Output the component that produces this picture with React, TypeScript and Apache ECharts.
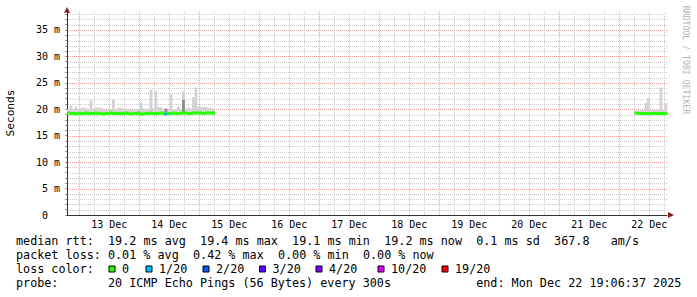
import React, { useEffect, useRef } from 'react';
import * as echarts from 'echarts';

// ---------- time frame ----------
const HOUR = 3600 * 1000;
const END_TIME = Date.UTC(2025, 11, 22, 19, 6, 37);
const SPAN_HOURS = 240;
const START_TIME = END_TIME - SPAN_HOURS * HOUR;
const T = (h: number) => START_TIME + h * HOUR;

// ---------- axis ticks ----------
const xTickLabels = ['13 Dec', '14 Dec', '15 Dec', '16 Dec', '17 Dec', '18 Dec', '19 Dec', '20 Dec', '21 Dec', '22 Dec'];
const xTickTimes = xTickLabels.map((_, k) => Date.UTC(2025, 11, 13 + k, 12));
const xGridTimes: number[] = [];
for (let k = 0; k < 40; k++) xGridTimes.push(Date.UTC(2025, 11, 13, 0) + k * 6 * HOUR);
const yTickValues = [0, 5, 10, 15, 20, 25, 30, 35];
const yTickLabels = ['0\u00a0\u00a0', '5 m', '10 m', '15 m', '20 m', '25 m', '30 m', '35 m'];
const yGridValues: number[] = [];
for (let v = 1; v <= 38; v++) yGridValues.push(v);
const Y_MAX = 38.4;

// ---------- data (ms), one value per hour ----------
const seg1StartHour = 0;
const seg1Median = [
  19.3, 19.2, 19.2, 19.1, 19.2, 19.2, 19.2, 19.3, 19.2, 19.2,
  19.2, 19.3, 19.2, 19.2, 19.1, 19.2, 19.2, 19.3, 19.2, 19.2,
  19.2, 19.2, 19.2, 19.3, 19.2, 19.1, 19.2, 19.2, 19.3, 19.1,
  19.1, 19.2, 19.2, 19.3, 19.2, 19.2, 19.2, 19.3, 19.2, 19.1,
  19.2, 19.2, 19.3, 19.2, 19.2, 19.2, 19.3, 19.3, 19.2, 19.2,
  19.3, 19.3, 19.3, 19.3, 19.2, 19.3, 19.3, 19.3, 19.3,
];
const seg1SmokeTop = [
  20.0, 20.7, 20.0, 20.5, 20.0, 20.2, 20.3, 20.2, 20.0, 21.7,
  20.0, 20.3, 20.3, 20.3, 20.0, 19.9, 20.0, 20.0, 21.9, 20.0,
  20.3, 20.3, 20.0, 20.1, 20.0, 19.9, 20.0, 20.0, 20.0, 21.3,
  20.2, 20.0, 20.1, 23.7, 20.2, 23.4, 20.4, 20.4, 20.0, 20.2,
  20.0, 22.8, 20.0, 20.0, 20.5, 20.1, 23.4, 20.2, 20.3, 20.2,
  22.3, 24.1, 20.5, 20.5, 20.4, 20.4, 20.3, 20.2, 20.1,
];
const seg2StartHour = 227;
const seg2Median = [19.3, 19.2, 19.2, 19.2, 19.2, 19.2, 19.2, 19.2, 19.2, 19.2, 19.2, 19.2, 19.2];
const seg2SmokeTop = [19.7, 19.8, 19.8, 19.9, 21.2, 22.2, 19.9, 20.0, 19.9, 19.9, 24.1, 19.9, 21.2];
const SMOKE_FLOOR = 19.0;
const darkSmokeHours = [39, 46];
const darkSmokeLow = [19.4, 19.3];
const darkSmokeHigh = [20.1, 21.8];
const lossHours = [39];
const lossLevels = [1];

// ---------- legend ----------
const lossLabels = ['0', '1/20', '2/20', '3/20', '4/20', '10/20', '19/20'];
const lossColors = ['#26ff00', '#00b8ff', '#0059ff', '#5e00ff', '#7e00ff', '#dd00ff', '#ff0000'];
const rttStats = ['19.2 ms avg', '19.4 ms max', '19.1 ms min', '19.2 ms now', '0.1 ms sd', '367.8   am/s'];
const lossStats = ['0.01 % avg', '0.42 % max', '0.00 % min', '0.00 % now'];
const probeText = '20 ICMP Echo Pings (56 Bytes) every 300s';
const endText = 'end: Mon Dec 22 19:06:37 2025';

// ---------- styles ----------
const FONT = '"DejaVu Sans Mono", monospace';
const CHAR_W = 7.08;
const LEG_FONT = 11.76;
const SMOKE_COLOR = '#d3d3d3';
const DARK_SMOKE_COLOR = '#8f8f8f';
const MAJOR_GRID = '#ef9e9e';
const MINOR_GRID = '#cbcbcb';

function buildSmoke(startHour: number, tops: number[]) {
  return tops.map((top, k) => [T(startHour + k), T(startHour + k + 1), SMOKE_FLOOR, top]);
}
function buildMedian(startHour: number, med: number[]) {
  return med.map((m, k) => {
    const h = startHour + k;
    const li = lossHours.indexOf(h);
    return [T(h), T(h + 1), m, li >= 0 ? lossLevels[li] : 0];
  });
}
function textPieces(line: string) {
  const out: { col: number; text: string }[] = [];
  const re = /\S+(?: \S+)*/g;
  let m: RegExpExecArray | null;
  while ((m = re.exec(line))) out.push({ col: m.index, text: m[0] });
  return out;
}

export default function App() {
  const ref = useRef<HTMLDivElement>(null);
  useEffect(() => {
    if (!ref.current) return;
    const chart = echarts.init(ref.current, null, { renderer: 'svg' });

    const smokeData = [...buildSmoke(seg1StartHour, seg1SmokeTop), ...buildSmoke(seg2StartHour, seg2SmokeTop)];
    const darkData = darkSmokeHours.map((h, k) => [T(h), T(h + 1), darkSmokeLow[k], darkSmokeHigh[k]]);
    const medianData = [...buildMedian(seg1StartHour, seg1Median), ...buildMedian(seg2StartHour, seg2Median)];
    // vertical grid: [time, isMajor]; horizontal grid: [x, value, isMajor]
    const vGridData = xGridTimes.map((t, k) => [t, k % 4 === 0 ? 1 : 0]);
    const hGridData = yGridValues.map((v) => [START_TIME, v, v % 5 === 0 ? 1 : 0]);

    const rectRender = (color: string) => (params: any, api: any) => {
      const p0 = api.coord([api.value(0), api.value(3)]);
      const p1 = api.coord([api.value(1), api.value(2)]);
      return {
        type: 'rect',
        shape: { x: p0[0], y: p0[1], width: p1[0] - p0[0] + 0.4, height: p1[1] - p0[1] },
        style: { fill: color },
      };
    };

    const lines = [
      'median rtt:'.padEnd(13) + rttStats.join('  '),
      'packet loss:'.padEnd(13) + lossStats.join('  '),
    ];
    const lineY = [241, 255, 269, 283];
    const graphic: any[] = [];
    const addText = (x: number, y: number, text: string) =>
      graphic.push({
        type: 'text', x, y,
        style: { text, fontFamily: FONT, fontSize: LEG_FONT, fill: '#000', verticalAlign: 'middle' },
      });
    lines.forEach((ln, r) => textPieces(ln).forEach((p) => addText(16 + p.col * CHAR_W, lineY[r], p.text)));
    const probeLine = 'probe:'.padEnd(13) + probeText.padEnd(52) + endText;
    textPieces(probeLine).forEach((p) => addText(16 + p.col * CHAR_W, lineY[3], p.text));
    addText(16, lineY[2], 'loss color:');
    const boxX = [109, 146, 203, 259.5, 316, 378, 442];
    lossLabels.forEach((lab, k) => {
      graphic.push({
        type: 'rect', shape: { x: boxX[k], y: 266, width: 6, height: 6 },
        style: { fill: lossColors[k], stroke: '#000', lineWidth: 1 },
      });
      addText(boxX[k] + 13, lineY[2], lab);
    });
    graphic.push({
      type: 'text', x: 10, y: 113, rotation: Math.PI / 2,
      style: { text: 'Seconds', fontFamily: FONT, fontSize: 11.2, fill: '#000', align: 'center', verticalAlign: 'middle' },
    });
    graphic.push({
      type: 'text', x: 686, y: 60, rotation: -Math.PI / 2,
      style: { text: 'RRDTOOL / TOBI OETIKER', fontFamily: FONT, fontSize: 8.2, fill: '#b4b4b4', align: 'center', verticalAlign: 'middle' },
    });
    graphic.push({ type: 'polygon', shape: { points: [[64, 13], [70, 13], [67, 7]] }, style: { fill: '#8b1a1a' } });
    graphic.push({ type: 'polygon', shape: { points: [[668, 212], [668, 218], [674, 215]] }, style: { fill: '#8b1a1a' } });

    chart.setOption({
      animation: false,
      backgroundColor: '#ffffff',
      grid: { left: 67, top: 12, width: 600, height: 203, containLabel: false },
      xAxis: {
        type: 'value',
        min: START_TIME,
        max: END_TIME,
        axisLine: { show: true, onZero: false, lineStyle: { color: '#333', width: 1 } },
        axisTick: { show: false },
        axisLabel: {
          customValues: xTickTimes,
          formatter: (v: number) => {
            const i = xTickTimes.indexOf(v);
            return i >= 0 ? xTickLabels[i] : '';
          },
          fontFamily: FONT, fontSize: 10, color: '#000', margin: 4,
        },
        splitLine: { show: false },
      },
      yAxis: {
        type: 'value',
        min: 0,
        max: Y_MAX,
        interval: 1,
        axisLine: { show: true, lineStyle: { color: '#333', width: 1 } },
        axisTick: { show: true, length: 2, lineStyle: { color: '#999' } },
        axisLabel: {
          formatter: (v: number) => {
            const i = yTickValues.indexOf(Math.round(v * 1000) / 1000);
            return i >= 0 ? yTickLabels[i] : '';
          },
          fontFamily: FONT, fontSize: 10, color: '#000', margin: 7,
        },
        splitLine: { show: false },
      },
      series: [
        {
          type: 'custom', name: 'vgrid', z: 1, silent: true, data: vGridData, encode: { x: 0, y: 1 },
          renderItem: (params: any, api: any) => {
            const cs = params.coordSys;
            const p = api.coord([api.value(0), 0]);
            const x = Math.round(p[0]);
            const color = api.value(1) === 1 ? MAJOR_GRID : MINOR_GRID;
            const children: any[] = [];
            for (let y = Math.round(cs.y); y < cs.y + cs.height; y += 2) {
              children.push({ type: 'rect', shape: { x, y, width: 1, height: 1 }, style: { fill: color } });
            }
            return { type: 'group', children };
          },
        },
        {
          type: 'custom', name: 'hgrid', z: 1, silent: true, data: hGridData, encode: { x: 0, y: 1 },
          renderItem: (params: any, api: any) => {
            const cs = params.coordSys;
            const p = api.coord([api.value(0), api.value(1)]);
            const y = Math.round(p[1]);
            const color = api.value(2) === 1 ? MAJOR_GRID : MINOR_GRID;
            const children: any[] = [];
            for (let x = Math.round(cs.x) + 1; x < cs.x + cs.width; x += 2) {
              children.push({ type: 'rect', shape: { x, y, width: 1, height: 1 }, style: { fill: color } });
            }
            return { type: 'group', children };
          },
        },
        { type: 'custom', name: 'smoke', z: 2, data: smokeData, encode: { x: [0, 1], y: [2, 3] }, renderItem: rectRender(SMOKE_COLOR), silent: true },
        { type: 'custom', name: 'smokeDark', z: 3, data: darkData, encode: { x: [0, 1], y: [2, 3] }, renderItem: rectRender(DARK_SMOKE_COLOR), silent: true },
        {
          type: 'custom', name: 'median', z: 4, data: medianData, encode: { x: [0, 1], y: 2 }, silent: true,
          renderItem: (params: any, api: any) => {
            const p0 = api.coord([api.value(0), api.value(2)]);
            const p1 = api.coord([api.value(1), api.value(2)]);
            return {
              type: 'rect',
              shape: { x: p0[0], y: p0[1] - 1.5, width: p1[0] - p0[0] + 0.4, height: 3 },
              style: { fill: lossColors[api.value(3)] },
            };
          },
        },
      ],
      graphic,
    });
    return () => chart.dispose();
  }, []);
  return <div ref={ref} style={{ position: 'fixed', left: 0, top: 0, width: 697, height: 297 }} />;
}
